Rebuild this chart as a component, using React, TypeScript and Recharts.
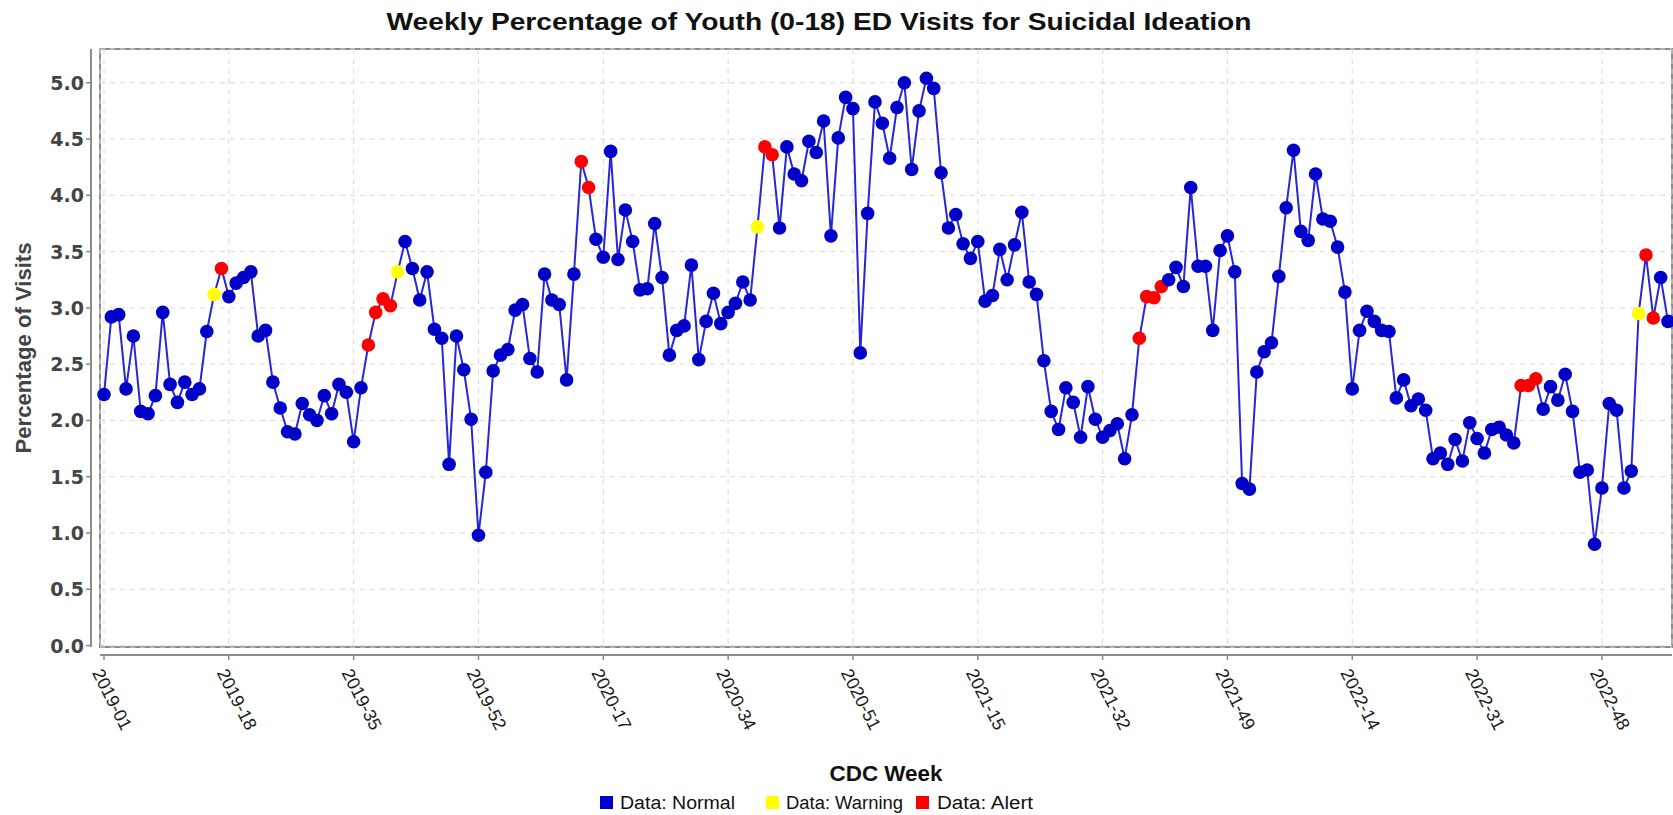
import React from "react";
import { LineChart, Line, XAxis, YAxis, CartesianGrid } from "recharts";

// CDC weeks: 2019-01 .. 2023-05
const YEAR_WEEKS: [number, number][] = [
  [2019, 52],
  [2020, 53],
  [2021, 52],
  [2022, 52],
  [2023, 5],
];
const WEEKS: string[] = YEAR_WEEKS.flatMap(([y, n]) =>
  Array.from({ length: n }, (_, i) => `${y}-${String(i + 1).padStart(2, "0")}`)
);

const VALUES = [
  2.23, 2.92, 2.94, 2.28, 2.75, 2.08, 2.06, 2.22, 2.96, 2.32,
  2.16, 2.34, 2.23, 2.28, 2.79, 3.12, 3.35, 3.1, 3.22, 3.27,
  3.32, 2.75, 2.8, 2.34, 2.11, 1.9, 1.88, 2.15, 2.05, 2.0,
  2.22, 2.06, 2.32, 2.25, 1.81, 2.29, 2.67, 2.96, 3.08, 3.02,
  3.32, 3.59, 3.35, 3.07, 3.32, 2.81, 2.73, 1.61, 2.75, 2.45,
  2.01, 0.98, 1.54, 2.44, 2.58, 2.63, 2.98, 3.03, 2.55, 2.43,
  3.3, 3.07, 3.03, 2.36, 3.3, 4.3, 4.07, 3.61, 3.45, 4.39,
  3.43, 3.87, 3.59, 3.16, 3.17, 3.75, 3.27, 2.58, 2.8, 2.84,
  3.38, 2.54, 2.88, 3.13, 2.86, 2.96, 3.04, 3.23, 3.07, 3.72,
  4.43, 4.36, 3.71, 4.43, 4.19, 4.13, 4.48, 4.38, 4.66, 3.64,
  4.51, 4.87, 4.77, 2.6, 3.84, 4.83, 4.64, 4.33, 4.78, 5.0,
  4.23, 4.75, 5.04, 4.95, 4.2, 3.71, 3.83, 3.57, 3.44, 3.59,
  3.06, 3.11, 3.52, 3.25, 3.56, 3.85, 3.23, 3.12, 2.53, 2.08,
  1.92, 2.29, 2.16, 1.85, 2.3, 2.01, 1.85, 1.91, 1.97, 1.66,
  2.05, 2.73, 3.1, 3.09, 3.19, 3.25, 3.36, 3.19, 4.07, 3.37,
  3.37, 2.8, 3.51, 3.64, 3.32, 1.44, 1.39, 2.43, 2.61, 2.69,
  3.28, 3.89, 4.4, 3.68, 3.6, 4.19, 3.79, 3.77, 3.54, 3.14,
  2.28, 2.8, 2.97, 2.88, 2.8, 2.79, 2.2, 2.36, 2.13, 2.19,
  2.09, 1.66, 1.71, 1.61, 1.83, 1.64, 1.98, 1.84, 1.71, 1.92,
  1.94, 1.87, 1.8, 2.31, 2.31, 2.37, 2.1, 2.3, 2.18, 2.41,
  2.08, 1.54, 1.56, 0.9, 1.4, 2.15, 2.09, 1.4, 1.55, 2.95,
  3.47, 2.91, 3.27, 2.88,
];

const WARNING_WEEKS = [15, 40, 89, 209];
const ALERT_WEEKS = [16, 36, 37, 38, 39, 65, 66, 90, 91, 141, 142, 143, 144, 193, 194, 195, 210, 211];

const Y_TICKS = [0, 0.5, 1, 1.5, 2, 2.5, 3, 3.5, 4, 4.5, 5];

const STATUS_COLORS: Record<string, string> = {
  Normal: "#0000c8",
  Warning: "#ffff00",
  Alert: "#ff0000",
};
const LEGEND_ITEMS = ["Normal", "Warning", "Alert"];

const data = WEEKS.map((week, i) => ({
  week,
  value: VALUES[i],
  status: ALERT_WEEKS.includes(i) ? "Alert" : WARNING_WEEKS.includes(i) ? "Warning" : "Normal",
}));

const W = 1673;
const H = 815;
const PLOT_LEFT = 100;
const PLOT_RIGHT = 1672;
const PLOT_TOP = 49;
const PLOT_BOTTOM = 647;
const Y_AXIS_X = 91;
const X_AXIS_Y = 655;

const YTick = (props: any) => {
  const y = props.y;
  return (
    <g>
      <line x1={Y_AXIS_X - 5} x2={Y_AXIS_X} y1={y} y2={y} stroke="#888" strokeWidth={1.5} />
      <text
        x={Y_AXIS_X - 7}
        y={y}
        textAnchor="end"
        dominantBaseline="central"
        fontFamily="DejaVu Sans"
        fontWeight="bold"
        fontSize={19}
        fill="#444"
      >
        {Number(props.payload.value).toFixed(1)}
      </text>
    </g>
  );
};

const XTick = (props: any) => {
  const x = props.x;
  return (
    <g>
      <line x1={x} x2={x} y1={X_AXIS_Y} y2={X_AXIS_Y + 5} stroke="#888" strokeWidth={1.5} />
      <g transform={`translate(${x - 7},${X_AXIS_Y + 15}) rotate(63)`}>
        <text
          x={0}
          y={0}
          dominantBaseline="central"
          fontFamily="Liberation Sans"
          fontSize={18}
          fill="#1a1a1a"
          textLength={66}
          lengthAdjust="spacingAndGlyphs"
        >
          {props.payload.value}
        </text>
      </g>
    </g>
  );
};

const StatusDot = (props: any) => {
  const { cx, cy, payload, index } = props;
  if (cx == null || cy == null) return <g key={`d-${index}`} />;
  return <circle key={`d-${index}`} cx={cx} cy={cy} r={6.8} fill={STATUS_COLORS[payload.status]} />;
};

const LEGEND_POS = [
  { sq: 600, tx: 620, len: 115 },
  { sq: 766, tx: 786, len: 117 },
  { sq: 916, tx: 937, len: 96 },
];

function Decorations() {
  return (
    <svg width={W} height={H} style={{ position: "absolute", left: 0, top: 0 }}>
      <rect x={0} y={0} width={W} height={H} fill="#fff" />
      <text
        x={819}
        y={22}
        textAnchor="middle"
        dominantBaseline="central"
        fontFamily="Liberation Sans"
        fontWeight="bold"
        fontSize={23}
        fill="#111"
        textLength={865}
        lengthAdjust="spacingAndGlyphs"
      >
        Weekly Percentage of Youth (0-18) ED Visits for Suicidal Ideation
      </text>
      <rect
        x={PLOT_LEFT}
        y={PLOT_TOP}
        width={PLOT_RIGHT - PLOT_LEFT}
        height={PLOT_BOTTOM - PLOT_TOP}
        fill="#fff"
        stroke="#8c8c8c"
        strokeWidth={2}
      />
      <line x1={Y_AXIS_X} x2={Y_AXIS_X} y1={PLOT_TOP} y2={PLOT_BOTTOM} stroke="#8c8c8c" strokeWidth={2} />
      <line x1={PLOT_LEFT} x2={PLOT_RIGHT} y1={X_AXIS_Y} y2={X_AXIS_Y} stroke="#8c8c8c" strokeWidth={2} />
      <text
        transform={`translate(23,${(PLOT_TOP + PLOT_BOTTOM) / 2}) rotate(-90)`}
        textAnchor="middle"
        dominantBaseline="central"
        fontFamily="Liberation Sans"
        fontWeight="bold"
        fontSize={22}
        fill="#444"
        textLength={211}
        lengthAdjust="spacingAndGlyphs"
      >
        Percentage of Visits
      </text>
      <text
        x={(PLOT_LEFT + PLOT_RIGHT) / 2}
        y={773}
        textAnchor="middle"
        dominantBaseline="central"
        fontFamily="Liberation Sans"
        fontWeight="bold"
        fontSize={22}
        fill="#111"
        textLength={113}
        lengthAdjust="spacingAndGlyphs"
      >
        CDC Week
      </text>
      {LEGEND_ITEMS.map((name, i) => (
        <g key={name}>
          <rect x={LEGEND_POS[i].sq} y={796} width={13} height={13} fill={STATUS_COLORS[name]} />
          <text
            x={LEGEND_POS[i].tx}
            y={802.5}
            dominantBaseline="central"
            fontFamily="Liberation Sans"
            fontSize={18}
            fill="#111"
            textLength={LEGEND_POS[i].len}
            lengthAdjust="spacingAndGlyphs"
          >
            {`Data: ${name}`}
          </text>
        </g>
      ))}
    </svg>
  );
}

export default function App() {
  return (
    <div style={{ position: "absolute", left: 0, top: 0, width: W, height: H, background: "#fff" }}>
      <Decorations />
      <div style={{ position: "absolute", left: 0, top: 0 }}>
        <LineChart
          width={W}
          height={H}
          data={data}
          margin={{ top: PLOT_TOP, right: W - PLOT_RIGHT, bottom: 0, left: 0 }}
        >
          <CartesianGrid stroke="#d9d9d9" strokeDasharray="5 5" strokeWidth={1} />
          <XAxis
            dataKey="week"
            type="category"
            interval={16}
            height={H - PLOT_BOTTOM}
            padding={{ left: 4, right: 4 }}
            axisLine={false}
            tickLine={false}
            tick={<XTick />}
          />
          <YAxis
            type="number"
            domain={[-0.013, 5.3]}
            ticks={Y_TICKS}
            width={PLOT_LEFT}
            axisLine={false}
            tickLine={false}
            tick={<YTick />}
          />
          <Line
            type="linear"
            dataKey="value"
            stroke="#2626d8"
            strokeWidth={2}
            dot={StatusDot}
            activeDot={false}
            isAnimationActive={false}
          />
        </LineChart>
      </div>
    </div>
  );
}
